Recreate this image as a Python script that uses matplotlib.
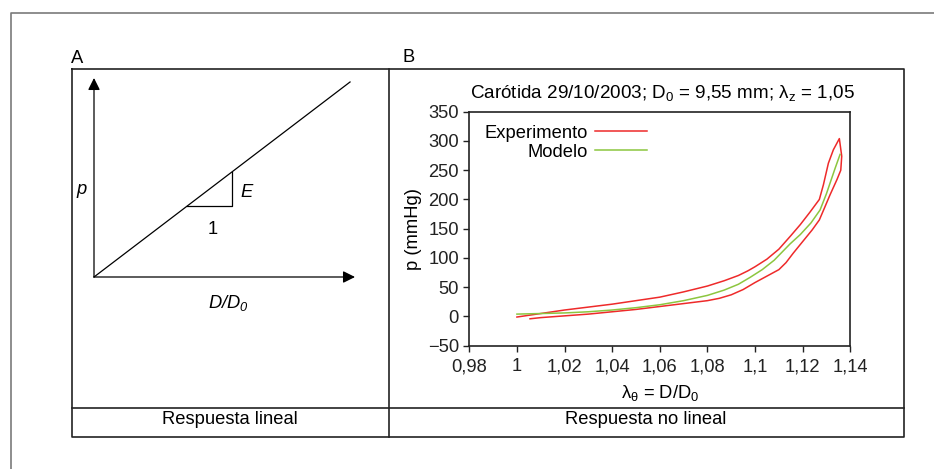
import matplotlib
matplotlib.use('Agg')
from matplotlib import pyplot as plt

plt.rcParams['font.family'] = ['Liberation Sans', 'DejaVu Sans']
plt.rcParams['mathtext.default'] = 'regular'

# curva experimental (rama superior, de izquierda a la punta)
exp_sup_x = [1.000, 1.010, 1.020, 1.030, 1.040, 1.050, 1.060, 1.070, 1.080, 1.087, 1.093,
             1.097, 1.100, 1.105, 1.110, 1.115, 1.119, 1.123, 1.127, 1.1287, 1.1308, 1.1329, 1.1354]
exp_sup_y = [-1, 5, 11, 16, 21, 27, 33, 42, 52, 61, 70,
             78, 85, 98, 115, 138, 157, 178, 200, 225, 262, 285, 304]
# rama inferior (de la punta hacia la izquierda)
exp_inf_x = [1.1364, 1.1360, 1.1344, 1.1315, 1.1290, 1.1270, 1.1240, 1.1200, 1.1160, 1.1130,
             1.1100, 1.1050, 1.1000, 1.0950, 1.0900, 1.0850, 1.0800, 1.0700, 1.0600, 1.0500,
             1.0400, 1.0300, 1.0200, 1.0100, 1.0055]
exp_inf_y = [274, 250, 234, 208, 184, 165, 148, 128, 108, 92,
             80, 69, 58, 46, 37, 31, 27, 22, 17, 12,
             8, 4, 1, -2, -4]
# modelo
mod_x = [1.000, 1.010, 1.020, 1.030, 1.040, 1.050, 1.060, 1.070, 1.080, 1.087, 1.093,
         1.098, 1.103, 1.108, 1.1147, 1.119, 1.1235, 1.1273, 1.1300, 1.1315, 1.1336, 1.1357]
mod_y = [4, 5, 6, 8, 11, 15, 20, 27, 36, 45, 55,
         67, 80, 96, 124, 140, 160, 182, 210, 228, 253, 277]

x_ticks = [0.98, 1.00, 1.02, 1.04, 1.06, 1.08, 1.10, 1.12, 1.14]
x_labels = ['0,98', '1', '1,02', '1,04', '1,06', '1,08', '1,1', '1,12', '1,14']
y_ticks = [-50, 0, 50, 100, 150, 200, 250, 300, 350]
y_labels = ['\u221250', '0', '50', '100', '150', '200', '250', '300', '350']

# esquema lineal (panel A), en fracciones del eje
lineal_x = [0.0, 0.981]
lineal_y = [0.0, 0.98]
tri_x = [0.355, 0.527, 0.527]
tri_y = [0.355, 0.355, 0.527]

W, H = 934, 469
FS = 13.2
fig = plt.figure(figsize=(W / 100, H / 100), dpi=100)
fig.patch.set_facecolor('white')

# capa de fondo en pixeles para los marcos
bg = fig.add_axes([0, 0, 1, 1])
bg.set_xlim(0, W)
bg.set_ylim(H, 0)
bg.axis('off')
bg.plot([11, 11, W], [H, 13, 13], color='#7a7a7a', lw=1.2)
bg.plot([72, 904, 904, 72, 72], [69, 69, 437, 437, 69], color='#222222', lw=1.2)
bg.plot([72, 904], [408, 408], color='#222222', lw=1.2)
bg.plot([389, 389], [69, 437], color='#222222', lw=1.2)
bg.text(71, 63, 'A', fontsize=FS, va='baseline', ha='left')
bg.text(403, 62, 'B', fontsize=FS, va='baseline', ha='left')
bg.text(230, 424, 'Respuesta lineal', fontsize=FS, va='baseline', ha='center')
bg.text(646, 424, 'Respuesta no lineal', fontsize=FS, va='baseline', ha='center')

# panel A
axA = fig.add_axes([94 / W, 1 - 277 / H, 261 / W, 199 / H])
axA.set_xlim(0, 1)
axA.set_ylim(0, 1)
axA.axis('off')
arr = dict(arrowstyle='-|>,head_length=0.4,head_width=0.2', color='black', lw=0.9,
           mutation_scale=18, shrinkA=0, shrinkB=0)
axA.annotate('', xy=(0, 1.0), xytext=(0, 0), xycoords='axes fraction', arrowprops=arr)
axA.annotate('', xy=(1.0, 0), xytext=(0, 0), xycoords='axes fraction', arrowprops=arr)
axA.plot(lineal_x, lineal_y, color='black', lw=0.9, clip_on=False)
axA.plot(tri_x, tri_y, color='black', lw=0.9, clip_on=False)
axA.text(-0.046, 0.44, 'p', fontsize=FS, style='italic', ha='center', va='center')
axA.text(0.585, 0.425, 'E', fontsize=FS, style='italic', ha='center', va='center')
axA.text(0.455, 0.24, '1', fontsize=FS, ha='center', va='center')
axA.text(0.515, -0.13, 'D/D$_0$', fontsize=FS, style='italic', ha='center', va='center')

# panel B
axB = fig.add_axes([469.3 / W, 1 - 345.7 / H, 381 / W, 234 / H])
axB.plot(exp_sup_x + exp_inf_x, exp_sup_y + exp_inf_y, color='#ee2a2a', lw=1.1,
         label='Experimento')
axB.plot(mod_x, mod_y, color='#8cc63f', lw=1.1, label='Modelo')
axB.set_xlim(0.98, 1.14)
axB.set_ylim(-50, 350)
axB.set_xticks(x_ticks)
axB.set_xticklabels(x_labels)
axB.set_yticks(y_ticks)
axB.set_yticklabels(y_labels)
axB.tick_params(direction='out', length=4.5, width=1.0, labelsize=FS, colors='#222222')
axB.tick_params(axis='x', pad=4.5)
axB.tick_params(axis='y', pad=3)
for s in axB.spines.values():
    s.set_linewidth(1.2)
    s.set_color('#222222')
axB.set_ylabel('p (mmHg)', fontsize=FS)
axB.yaxis.set_label_coords(-0.125, 0.5)
axB.set_xlabel('\u03bb$_\u03b8$ = D/D$_0$', fontsize=FS, va='top')
axB.xaxis.set_label_coords(0.5, -0.16)
axB.text(0.508, 1.0585, 'Carótida 29/10/2003; D$_0$ = 9,55 mm; \u03bb$_z$ = 1,05',
         fontsize=13.6, ha='center', va='baseline', transform=axB.transAxes)
axB.legend(loc='upper left', bbox_to_anchor=(0.04, 0.945), frameon=False, markerfirst=False,
           fontsize=FS, handlelength=2.8, handletextpad=0.4, labelspacing=0.12,
           borderpad=0, borderaxespad=0)

fig.savefig('out.png', dpi=100, facecolor='white')
